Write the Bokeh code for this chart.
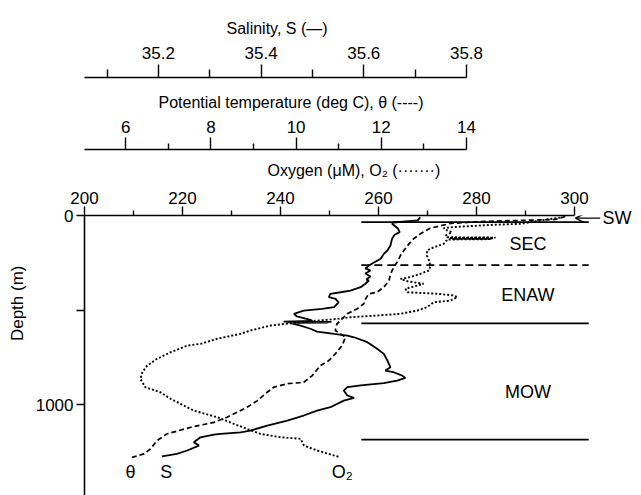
from bokeh.plotting import figure
from bokeh.models import Range1d, LinearAxis, FixedTicker, Label, Arrow, OpenHead, Title
from bokeh.embed import file_html
from bokeh.resources import INLINE

FONT = "Liberation Sans"

# Salinity profile (depth in m, practical salinity)
sal_depth = [9, 26, 37, 44, 67, 88, 102, 123, 159, 185,
             203, 229, 250, 265, 280, 291, 307, 323, 339, 344,
             361, 379, 397, 406, 414, 432, 441, 459, 485, 494,
             503, 520, 534, 552, 558, 561, 563, 565, 567, 569,
             582, 599, 614, 626, 635, 644, 670, 705, 732, 767,
             803, 820, 829, 847, 859, 873, 887, 899, 908, 926,
             952, 965, 979, 1014, 1032, 1058, 1085, 1111, 1138, 1147,
             1155, 1159, 1173, 1199, 1217, 1243, 1261, 1274]
salinity = [35.710, 35.705, 35.658, 35.655, 35.666, 35.670, 35.660, 35.655, 35.652, 35.646,
            35.639, 35.633, 35.619, 35.610, 35.603, 35.613, 35.603, 35.613, 35.605, 35.610,
            35.603, 35.594, 35.574, 35.555, 35.535, 35.532, 35.545, 35.551, 35.542, 35.519,
            35.483, 35.464, 35.470, 35.496, 35.500, 35.444, 35.537, 35.450, 35.530, 35.457,
            35.477, 35.496, 35.509, 35.542, 35.568, 35.581, 35.607, 35.626, 35.639, 35.646,
            35.652, 35.642, 35.658, 35.675, 35.681, 35.665, 35.639, 35.594, 35.568, 35.561,
            35.568, 35.581, 35.561, 35.535, 35.509, 35.483, 35.451, 35.412, 35.379, 35.360,
            35.321, 35.308, 35.282, 35.269, 35.279, 35.256, 35.236, 35.207]

# Potential temperature profile (deg C)
theta_depth = [5, 21, 26, 32, 42, 57, 67, 97, 123, 150,
               185, 212, 247, 274, 308, 344, 379, 406, 414, 441,
               467, 494, 520, 547, 573, 608, 626, 644, 688, 732,
               767, 794, 847, 882, 890, 908, 935, 979, 1014, 1067,
               1094, 1120, 1155, 1190, 1234, 1261, 1279]
theta = [16.32, 16.09, 15.27, 14.33, 13.62, 13.34, 13.15, 12.92, 12.76, 12.65,
         12.53, 12.45, 12.37, 12.29, 12.22, 12.18, 12.06, 11.90, 11.71, 11.63,
         11.59, 11.43, 11.20, 11.08, 10.96, 10.92, 11.04, 11.16, 11.08, 10.92,
         10.77, 10.57, 10.38, 10.18, 9.79, 9.48, 9.32, 9.09, 8.85, 8.38,
         8.07, 7.53, 6.97, 6.74, 6.58, 6.43, 6.15]

# Dissolved oxygen profile (uM)
o2_depth = [11, 21, 44, 49, 57, 62, 67, 79, 88, 106,
            115, 117, 119, 121, 123, 125, 127, 132, 150, 168,
            185, 212, 238, 265, 291, 308, 326, 335, 348, 361,
            376, 388, 406, 414, 423, 432, 450, 459, 485, 503,
            520, 529, 538, 547, 556, 570, 582, 608, 626, 652,
            679, 688, 723, 758, 794, 829, 864, 908, 935, 970,
            996, 1032, 1067, 1102, 1129, 1155, 1173, 1181, 1217, 1243,
            1279]
oxygen = [297.1, 294.4, 289.0, 283.5, 278.1, 274.7, 273.3, 274.0, 275.0, 273.7,
          274.0, 283.9, 274.5, 283.5, 275.0, 283.0, 274.0, 273.9, 273.3, 271.3,
          269.9, 269.9, 270.3, 270.6, 270.3, 268.6, 266.5, 264.5, 265.9, 269.2,
          267.2, 265.5, 265.9, 272.0, 275.4, 276.1, 274.7, 271.3, 269.9, 267.9,
          264.5, 259.7, 254.3, 251.6, 247.5, 242.0, 238.0, 233.9, 231.8, 227.1,
          223.7, 221.0, 217.6, 214.8, 212.8, 211.8, 211.4, 212.4, 215.5, 217.6,
          219.6, 222.3, 227.1, 230.5, 233.2, 235.9, 240.0, 244.1, 244.8, 247.5,
          252.2]

# Water-mass boundaries (depth, m) and their line styles
boundary_depth = [35, 262, 571, 1185]
boundary_dash = ["solid", "8 5", "solid", "solid"]
boundary_span = [256.5, 302.9]   # oxygen-axis extent of the boundary lines

# Water-mass names and the depth at which each name sits
mass_names = ["SEC", "ENAW", "MOW"]
mass_depth = [153, 423, 935]

# Surface-water tag depth on the right-hand side
sw_depth = 14

p = figure(width=641, height=495, output_backend="svg", toolbar_location=None,
           x_range=Range1d(200, 305.31), y_range=Range1d(1481, 0),
           x_axis_location="above",
           min_border_left=84, min_border_right=41, min_border_top=215, min_border_bottom=0)
p.extra_x_ranges = {"theta": Range1d(5.033, 17.146), "sal": Range1d(35.0561, 36.061)}
p.title.visible = False
p.xgrid.visible = False
p.ygrid.visible = False
p.outline_line_color = None
p.background_fill_color = "white"
p.border_fill_color = "white"


def style_axis(ax, majors, minors, tick_out, minor_out, standoff):
    ax.ticker = FixedTicker(ticks=majors, minor_ticks=minors)
    ax.major_label_text_font = FONT
    ax.major_label_text_font_size = "17px"
    ax.major_label_text_color = "black"
    ax.major_label_standoff = standoff
    ax.major_tick_in = 0
    ax.major_tick_out = tick_out
    ax.minor_tick_in = 0
    ax.minor_tick_out = minor_out
    ax.axis_line_width = 1.6
    ax.major_tick_line_width = 1.4
    ax.minor_tick_line_width = 1.4
    ax.axis_line_color = "black"
    ax.major_tick_line_color = "black"
    ax.minor_tick_line_color = "black"


def axis_title(text, offset, standoff, side="above", align="left", size="16px", top_pad=0):
    t = Title(text=text, align=align, offset=offset, standoff=standoff,
              vertical_align="bottom", text_font=FONT, text_font_size=size,
              text_font_style="normal", text_color="black",
              padding=dict(left=0, right=0, top=top_pad, bottom=0))
    p.add_layout(t, side)


# Oxygen axis, nearest the profiles
ox_axis = p.xaxis[0]
style_axis(ox_axis, [200, 220, 240, 260, 280, 300], [210, 230, 250, 270, 290], 9, 5, 3)
ox_axis.bounds = (200, 300)
axis_title("Oxygen (μM), O₂ (·······)", 183, 20)

# Potential temperature axis
th_axis = LinearAxis(x_range_name="theta")
style_axis(th_axis, [6, 8, 10, 12, 14], [5, 7, 9, 11, 13], 12, 6, 5)
th_axis.bounds = (4.6, 14)
p.add_layout(th_axis, "above")
axis_title("Potential temperature (deg C), θ (----)", 74, 14, top_pad=7)

# Salinity axis, outermost
sa_axis = LinearAxis(x_range_name="sal")
style_axis(sa_axis, [35.2, 35.4, 35.6, 35.8], [35.1, 35.3, 35.5, 35.7], 13, 8, 6)
sa_axis.bounds = (35.015, 35.8)
p.add_layout(sa_axis, "above")
axis_title("Salinity, S (—)", 142, 14)

# Depth axis
ya = p.yaxis[0]
ya.ticker = FixedTicker(ticks=[0, 500, 1000], minor_ticks=[])
ya.major_label_overrides = {500: ""}
ya.major_label_text_font = FONT
ya.major_label_text_font_size = "17px"
ya.major_label_text_color = "black"
ya.major_label_standoff = 3
ya.major_tick_in = 0
ya.major_tick_out = 8
ya.axis_line_width = 1.6
ya.major_tick_line_width = 1.4
ya.axis_line_color = "black"
axis_title("Depth (m)", 50, 11, side="left", align="right", size="17px")

# Right-hand tag marking the surface water
sw_axis = LinearAxis(ticker=FixedTicker(ticks=[sw_depth], minor_ticks=[]),
                     major_label_overrides={sw_depth: "SW"})
sw_axis.axis_line_color = None
sw_axis.major_tick_line_color = None
sw_axis.major_tick_in = 0
sw_axis.major_tick_out = 0
sw_axis.major_label_standoff = 2
sw_axis.major_label_text_font = FONT
sw_axis.major_label_text_font_size = "18px"
sw_axis.major_label_text_color = "black"
p.add_layout(sw_axis, "right")

# Water-mass boundary lines
for d, dash in zip(boundary_depth, boundary_dash):
    p.line(boundary_span, [d, d], line_color="black", line_width=1.8, line_dash=dash)

# Profiles
p.line(salinity, sal_depth, x_range_name="sal", line_color="black", line_width=1.8)
p.line(theta, theta_depth, x_range_name="theta", line_color="black", line_width=1.7,
       line_dash="5 3")
p.line(oxygen, o2_depth, line_color="black", line_width=1.9, line_dash="2 2")

# Water-mass names
for name, d in zip(mass_names, mass_depth):
    p.add_layout(Label(x=290.5, y=d, text=name, text_align="center", text_baseline="middle",
                       text_font=FONT, text_font_size="18px", text_color="black"))

# Arrow pointing at the surface water
p.add_layout(Arrow(end=OpenHead(size=9, line_width=1.4, line_color="black"),
                   x_start=305.3, y_start=sw_depth, x_end=300.2, y_end=sw_depth,
                   line_width=1.4, line_color="black"))

# Curve tags at the deep end of each profile
for txt, xo in [("θ", 209.4), ("S", 216.7), ("O₂", 252.6)]:
    p.add_layout(Label(x=xo, y=1358, text=txt, text_align="center", text_baseline="middle",
                       text_font=FONT, text_font_size="18px", text_color="black"))

open("out.html", "w").write(file_html(p, INLINE))
